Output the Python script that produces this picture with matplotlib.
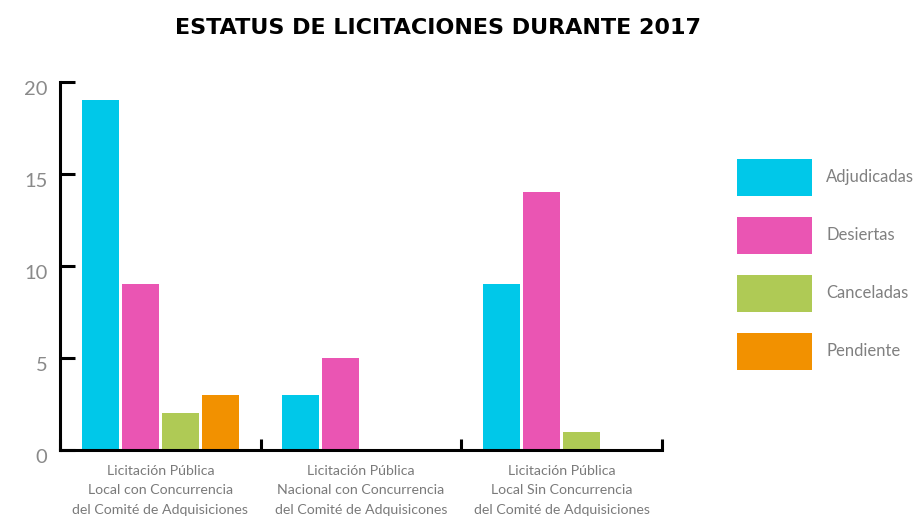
import matplotlib
matplotlib.use("Agg")
import matplotlib.pyplot as plt
import matplotlib.transforms as mtransforms
import numpy as np

categories = ["Licitación Pública\nLocal con Concurrencia\ndel Comité de Adquisiciones",
              "Licitación Pública\nNacional con Concurrencia\ndel Comité de Adquisicones",
              "Licitación Pública\nLocal Sin Concurrencia\ndel Comité de Adquisiciones"]
series_names = ["Adjudicadas", "Desiertas", "Canceladas", "Pendiente"]
adjudicadas = [19, 3, 9]
desiertas = [9, 5, 14]
canceladas = [2, 0, 1]
pendiente = [3, 0, 0]
colors = ["#00C8E9", "#EA55B3", "#AFCA55", "#F29100"]
y_ticks = [0, 5, 10, 15, 20]

plt.rcParams['font.family'] = ['Lato', 'DejaVu Sans']

fig = plt.figure(figsize=(9.22, 5.18), dpi=100)
ax = fig.add_axes([60/922, 1-450/518, (662-60)/922, (450-82)/518])

series = [adjudicadas, desiertas, canceladas, pendiente]
centers = np.arange(len(categories)) + 0.5
offsets = [-0.3, -0.1, 0.1, 0.3]
width = 0.185
for vals, off, col, name in zip(series, offsets, colors, series_names):
    ax.bar(centers + off, vals, width=width, color=col, label=name, zorder=2)

ax.set_xlim(0, 3)
ax.set_ylim(0, 20)
ax.set_yticks(y_ticks)
ax.set_yticklabels([str(v) for v in y_ticks])
ax.tick_params(axis='y', direction='in', length=11, width=2.2, colors='black',
               labelcolor='#8a8a8a', labelsize=14.5, pad=9)
shift = mtransforms.ScaledTranslation(0, -4/72, fig.dpi_scale_trans)
for lab in ax.get_yticklabels():
    lab.set_transform(lab.get_transform() + shift)
ax.set_xticks([0, 1, 2, 3])
ax.set_xticklabels([])
ax.tick_params(axis='x', which='major', direction='in', length=8, width=2.2, colors='black')
ax.set_xticks(centers, minor=True)
ax.set_xticklabels(categories, minor=True)
ax.tick_params(axis='x', which='minor', length=0, labelcolor='#7a7a7a', labelsize=10.2, pad=11)
for lab in ax.get_xticklabels(minor=True):
    lab.set_linespacing(1.72)

for s in ['top', 'right']:
    ax.spines[s].set_visible(False)
for s in ['left', 'bottom']:
    ax.spines[s].set_linewidth(2.2)

fig.text(438/922, 1-28/518, "ESTATUS DE LICITACIONES DURANTE 2017", ha='center', va='center',
         fontsize=16, fontweight='bold', color='black', family='DejaVu Sans')

leg = fig.legend(loc='upper left', bbox_to_anchor=(723/922, 1-145/518), frameon=False,
                 fontsize=11, handlelength=4.9, handleheight=3.34, labelspacing=1.39,
                 handletextpad=0.95, labelcolor='#808080')
for t in leg.get_texts():
    t.set_fontsize(12)

fig.savefig("out.png", dpi=100)
